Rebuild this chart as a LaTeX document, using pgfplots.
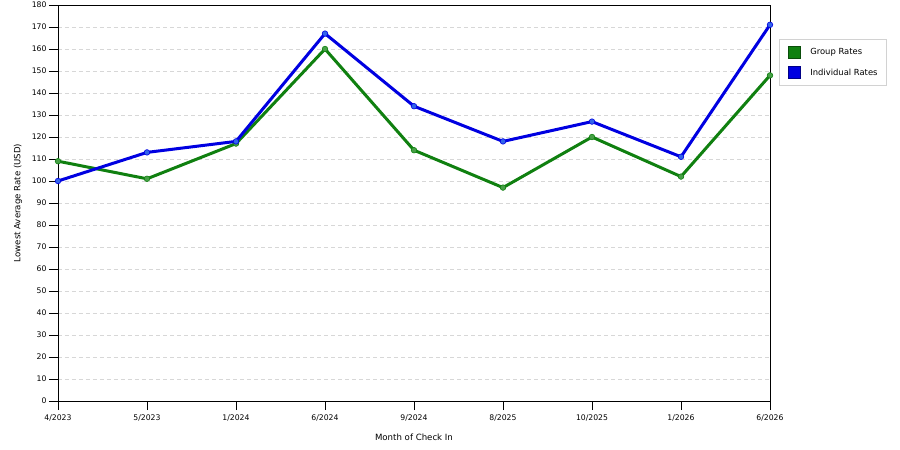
\documentclass[border=0pt]{standalone}
\usepackage{fontspec}
\setmainfont{DejaVu Sans}
\usepackage{pgfplots}
\pgfplotsset{compat=1.18}

\definecolor{grpline}{RGB}{16,128,16}
\definecolor{grpmark}{RGB}{70,160,70}
\definecolor{indline}{RGB}{0,0,225}
\definecolor{indmark}{RGB}{50,100,235}
\definecolor{gridc}{RGB}{215,215,215}
\definecolor{legbox}{RGB}{210,210,210}

\begin{document}
\begin{tikzpicture}
\path[use as bounding box] (-58bp,-49bp) rectangle (842bp,401bp);
\begin{axis}[
    at={(0,0)}, anchor=south west,
    scale only axis,
    width=712bp, height=396bp,
    xmin=0, xmax=8,
    ymin=0, ymax=180,
    xtick=data,
    xticklabels={4/2023,5/2023,1/2024,6/2024,9/2024,8/2025,10/2025,1/2026,6/2026},
    ytick={0,10,...,180},
    xtick pos=left, ytick pos=left,
    tick align=outside,
    major tick length=9bp,
    tick style={black, line width=0.8bp},
    axis line style={black, line width=0.8bp},
    ymajorgrids=true,
    grid style={gridc, dash pattern=on 4bp off 3bp, line width=0.7bp},
    font=\fontsize{7.7bp}{9bp}\selectfont,
    /pgf/number format/assume math mode=true,
    yticklabel style={xshift=1bp},
    xticklabel style={yshift=-1bp},
    ylabel={Lowest Average Rate (USD)},
    xlabel={Month of Check In},
    label style={font=\fontsize{8.6bp}{10bp}\selectfont},
    ylabel style={at={(axis description cs:-0.0562,0.5)}, anchor=center},
    xlabel style={at={(axis description cs:0.5,-0.0909)}, anchor=center},
    clip=false,
    legend style={
        at={(rel axis cs:1.0126,0.914)}, anchor=north west,
        draw=legbox, line width=0.7bp,
        inner xsep=7bp, inner ysep=6.5bp,
        row sep=8bp,
        font=\fontsize{8.4bp}{10bp}\selectfont,
        cells={anchor=west},
    },
    legend cell align=left,
]
\addplot[grpline, line width=3bp,
    mark=*, mark size=2.8bp, mark options={fill=grpmark, draw=grpline, line width=0.6bp},
    legend image code/.code={\path[draw=none, fill=none] (-2bp,0) -- (20bp,0);
        \fill[grpline, draw=black!40!grpline, line width=0.5bp] (0bp,-6bp) rectangle (12bp,6bp);}]
coordinates {(0,109) (1,101) (2,117) (3,160) (4,114) (5,97) (6,120) (7,102) (8,148)};
\addlegendentry{Group Rates}
\addplot[indline, line width=3bp,
    mark=*, mark size=2.8bp, mark options={fill=indmark, draw=indline, line width=0.6bp},
    legend image code/.code={\path[draw=none, fill=none] (-2bp,0) -- (20bp,0);
        \fill[indline, draw=black!40!indline, line width=0.5bp] (0bp,-6bp) rectangle (12bp,6bp);}]
coordinates {(0,100) (1,113) (2,118) (3,167) (4,134) (5,118) (6,127) (7,111) (8,171)};
\addlegendentry{Individual Rates}
\end{axis}
\end{tikzpicture}
\end{document}
